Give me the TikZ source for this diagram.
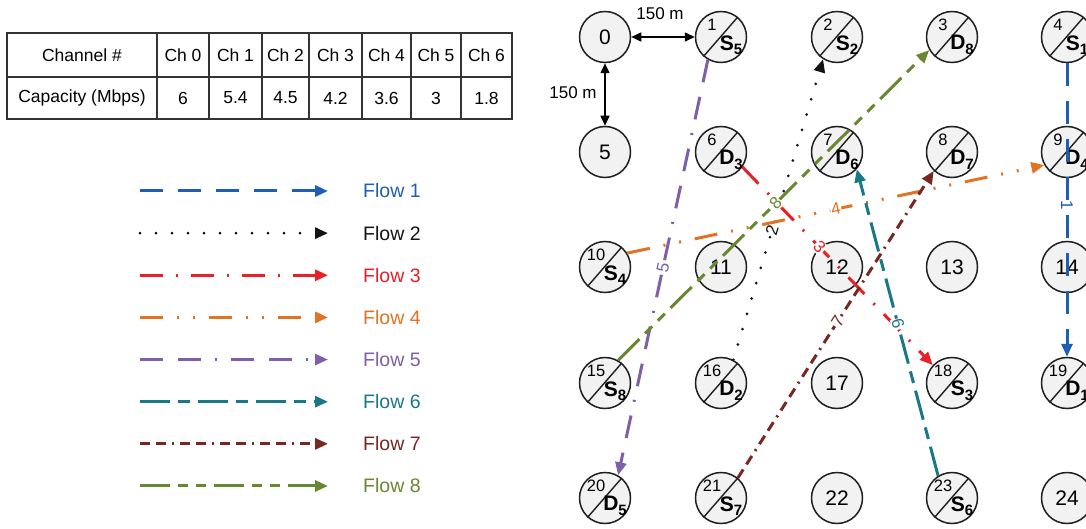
\documentclass[tikz,border=0pt]{standalone}
\usepackage{fontspec}
\setmainfont{Liberation Sans}
\usetikzlibrary{arrows.meta}
\definecolor{c1}{RGB}{31,95,179}
\definecolor{c2}{RGB}{20,20,20}
\definecolor{c3}{RGB}{232,32,40}
\definecolor{c4}{RGB}{225,115,35}
\definecolor{c5}{RGB}{125,95,170}
\definecolor{c6}{RGB}{25,120,135}
\definecolor{c7}{RGB}{120,40,35}
\definecolor{c8}{RGB}{105,135,50}
\definecolor{nodefill}{RGB}{242,242,242}
\newcommand\SlNode[5]{%
  \node[nd] (n#1) at (#2,#3) {};
  \draw[slash] (n#1.228) -- (n#1.50);
  \node[numt] (t#1) at ([shift={(-9,-12)}]n#1.center) {#1};
  \node[lblt] (l#1) at ([shift={(10,8)}]n#1.center) {#4\raisebox{-4.5pt}{\fontsize{15}{15}\selectfont #5}};
}
\begin{document}
\begin{tikzpicture}[x=1pt,y=-1pt,
  nd/.style={circle,draw=black!88,fill=nodefill,line width=1.5pt,minimum size=51pt,inner sep=0pt,font=\fontsize{21}{21}\selectfont},
  slash/.style={draw=black!88,line width=1.4pt},
  numt/.style={inner sep=0pt,font=\fontsize{16.5}{16.5}\selectfont},
  lblt/.style={inner sep=0pt,font=\fontsize{21}{21}\selectfont\bfseries},
  tip/.style={-{Triangle[length=13pt,width=11pt]}},
  fbase/.style={line width=3pt,line cap=butt,tip},
  f1/.style={fbase,draw=c1,dash pattern=on 23pt off 15pt},
  f2/.style={fbase,draw=c2,line cap=round,dash pattern=on 0pt off 16pt},
  f3/.style={fbase,draw=c3,dash pattern=on 23pt off 13pt on 2pt off 13pt},
  f4/.style={fbase,draw=c4,dash pattern=on 23pt off 14pt on 2pt off 14pt on 2pt off 14pt},
  f5/.style={fbase,draw=c5,dash pattern=on 23pt off 15pt on 23pt off 14pt on 2pt off 14pt},
  f6/.style={fbase,draw=c6,dash pattern=on 30pt off 8pt on 12pt off 8pt},
  f7/.style={fbase,draw=c7,dash pattern=on 10pt off 6pt on 10pt off 6pt on 2pt off 6pt},
  f8/.style={fbase,draw=c8,dash pattern=on 30pt off 8pt on 10pt off 8pt on 10pt off 8pt},
  lab/.style={sloped,fill=white,inner sep=0.8pt,font=\fontsize{17}{17}\selectfont},
  legt/.style={anchor=west,inner sep=0pt,font=\fontsize{19.5}{19.5}\selectfont},
  tabt/.style={inner sep=0pt,font=\fontsize{17.5}{17.5}\selectfont},
  dimarr/.style={draw=black,line width=1.5pt,{Triangle[length=10pt,width=9pt]}-{Triangle[length=10pt,width=9pt]}},
  dimt/.style={inner sep=0pt,font=\fontsize{17}{17}\selectfont}
]
\useasboundingbox (0,0) rectangle (1086,529);
\fill[white] (0,0) rectangle (1086,529);

% ---------- table ----------
\draw[black!80,line width=1.2pt] (7,33) rectangle (512,119);
\draw[black!80,line width=1.2pt] (7,77) -- (512,77);
\foreach \xx in {157,209,262,309,362,411,461}
  \draw[black!80,line width=1.2pt] (\xx,33) -- (\xx,119);
\node[tabt] (th0) at (82,55) {Channel \#};
\node[tabt] (tr0) at (82,98) {Capacity (Mbps)};
\foreach \cx/\ch/\cap [count=\k] in {183/0/6,235.5/1/5.4,285.5/2/4.5,335.5/3/4.2,386.5/4/3.6,436/5/3,486.5/6/1.8}{
  \node[tabt] (th\k) at (\cx,55) {Ch \ch};
  \node[tabt] (tr\k) at (\cx,98) {\cap};
}

% ---------- legend ----------
\foreach \i in {1,...,8}{
  \coordinate (ls\i) at (140,{191+42.14*(\i-1)});
  \coordinate (le\i) at (328,{191+42.14*(\i-1)});
  \draw[f\i] (ls\i) -- (le\i);
  \node[legt,text=c\i] (lt\i) at (363,{191+42.14*(\i-1)}) {Flow \i};
}

% ---------- grid nodes ----------
\node[nd] (n0) at (605,37) {0};
\SlNode{1}{721}{37}{S}{5}
\SlNode{2}{837}{37}{S}{2}
\SlNode{3}{952}{37}{D}{8}
\SlNode{4}{1067}{37}{S}{1}
\node[nd] (n5) at (605,152) {5};
\SlNode{6}{721}{152}{D}{3}
\SlNode{7}{837}{152}{D}{6}
\SlNode{8}{952}{152}{D}{7}
\SlNode{9}{1067}{152}{D}{4}
\SlNode{10}{605}{267}{S}{4}
\node[nd] (n11) at (721,267) {11};
\node[nd] (n12) at (837,267) {12};
\node[nd] (n13) at (952,267) {13};
\node[nd] (n14) at (1067,267) {14};
\SlNode{15}{605}{383}{S}{8}
\SlNode{16}{721}{383}{D}{2}
\node[nd] (n17) at (837,383) {17};
\SlNode{18}{952}{383}{S}{3}
\SlNode{19}{1067}{383}{D}{1}
\SlNode{20}{605}{498}{D}{5}
\SlNode{21}{721}{498}{S}{7}
\node[nd] (n22) at (837,498) {22};
\SlNode{23}{952}{498}{S}{6}
\node[nd] (n24) at (1067,498) {24};

% ---------- distances ----------
\draw[dimarr] (n0) -- (n1);
\draw[dimarr] (n0) -- (n5);
\node[dimt] (d1) at (660,14) {150 m};
\node[dimt] (d2) at (573,93) {150 m};

% ---------- flows ----------
\draw[f1] (n4.-90) -- (n19.90) node[lab,pos=0.485,text=c1] (fl1) {1};
\draw[f2] (n16.62) -- (n2.238) node[lab,pos=0.43,text=c2] (fl2) {2};
\draw[f3] (n6.-35) -- (n18.137) node[lab,pos=0.405,text=c3] (fl3) {3};
\draw[f4] (n10.32) -- (n9.210) node[lab,pos=0.5,text=c4] (fl4) {4};
\draw[f5] (n1.240) -- (n20.60) node[lab,pos=0.5,text=c5] (fl5) {5};
\draw[f6] (n23.122) -- (n7.-41) node[lab,pos=0.495,text=c6] (fl6) {6};
\draw[f7] (n21.50) -- (n8.226) node[lab,pos=0.51,text=c7] (fl7) {7};
\draw[f8] (n15.60) -- (n3.210) node[lab,pos=0.506,text=c8] (fl8) {8};
\end{tikzpicture}
\end{document}
